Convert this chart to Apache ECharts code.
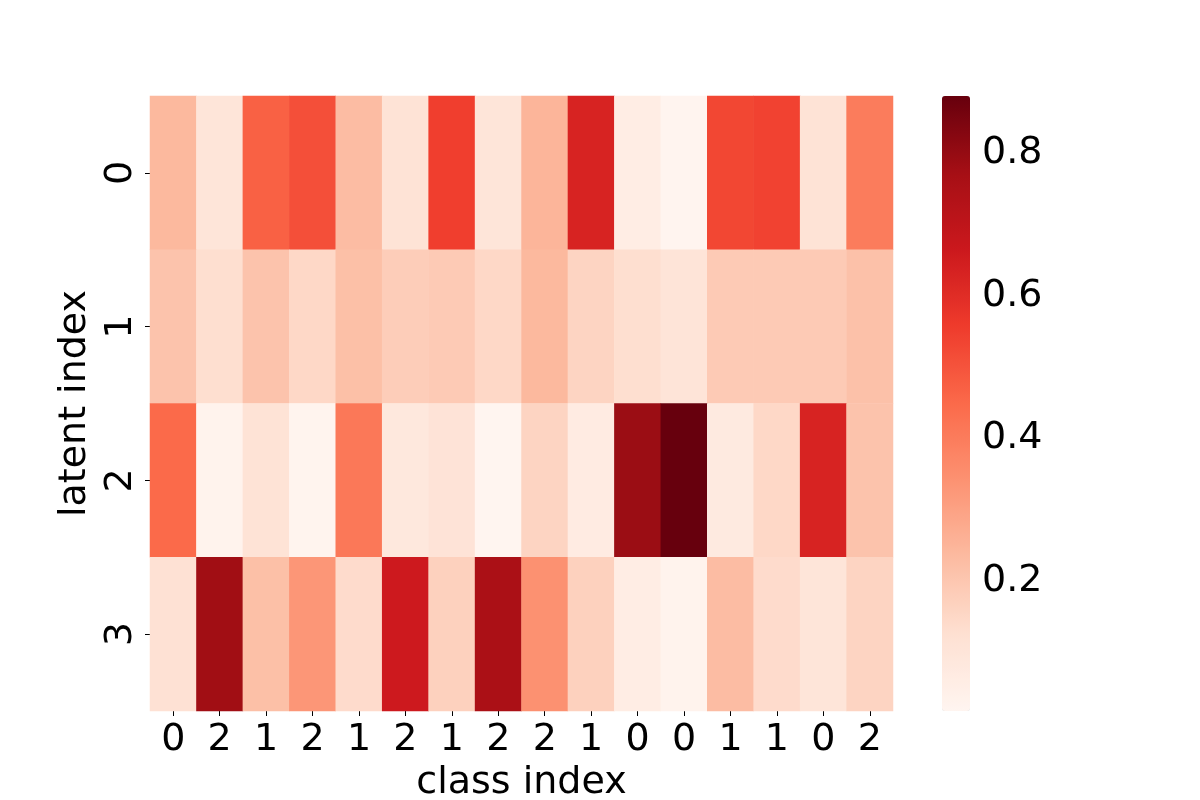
<!DOCTYPE html>
<html>
<head>
<meta charset="utf-8">
<title>latent / class heatmap</title>
<script src="https://cdn.jsdelivr.net/npm/echarts@6/dist/echarts.min.js"></script>
<style>
    html, body { margin: 0; padding: 0; background: #fff; }
    #heat { width: 1200px; height: 800px; }
</style>
</head>
<body>
<div id="heat"></div>
<script>
// 类别列 / 潜变量行
var classLabels = ['0', '2', '1', '2', '1', '2', '1', '2', '2', '1', '0', '0', '1', '1', '0', '2'];
var latentLabels = ['0', '1', '2', '3'];

// 每一行的数值
var latent0 = [0.24, 0.10, 0.47, 0.51, 0.23, 0.11, 0.55, 0.10, 0.25, 0.63, 0.06, 0.022, 0.53, 0.54, 0.11, 0.40];
var latent1 = [0.21, 0.13, 0.21, 0.15, 0.22, 0.18, 0.19, 0.15, 0.24, 0.16, 0.13, 0.105, 0.19, 0.19, 0.19, 0.215];
var latent2 = [0.45, 0.03, 0.11, 0.025, 0.41, 0.087, 0.108, 0.018, 0.16, 0.07, 0.79, 0.88, 0.075, 0.15, 0.63, 0.21];
var latent3 = [0.12, 0.78, 0.22, 0.33, 0.14, 0.66, 0.17, 0.755, 0.345, 0.17, 0.06, 0.03, 0.23, 0.14, 0.10, 0.16];

// 色条刻度
var cbarTicks = [0.2, 0.4, 0.6, 0.8];
var vMin = 0.018;
var vMax = 0.88;

// matplotlib Reds
var reds = ['#fff5f0', '#fee0d2', '#fcbba1', '#fc9272', '#fb6a4a', '#ef3b2c', '#cb181d', '#a50f15', '#67000d'];

var heat = echarts.init(document.getElementById('heat'));

var rows = [latent0, latent1, latent2, latent3];
var cells = [];
rows.forEach(function (row, y) {
    row.forEach(function (v, x) {
        cells.push([x, y, v]);
    });
});

var font = 'DejaVu Sans';
var tickStyle = { show: true, length: 5, lineStyle: { color: '#000', width: 1 } };

var option = {
    backgroundColor: '#fff',
    animation: false,
    textStyle: { fontFamily: font, color: '#000' },
    grid: [
        { left: 150, top: 96, width: 743, height: 615, outerBoundsMode: 'none' },
        // 色条的坐标轴
        { left: 942, top: 96, width: 28, height: 615, outerBoundsMode: 'none' }
    ],
    xAxis: [
        {
            type: 'category',
            data: classLabels,
            gridIndex: 0,
            axisLine: { show: false },
            axisTick: Object.assign({ alignWithLabel: true }, tickStyle),
            axisLabel: { fontSize: 38, color: '#000', margin: 10, interval: 0 },
            splitArea: { show: false },
            name: 'class index',
            nameLocation: 'middle',
            nameGap: 52,
            nameTextStyle: { fontSize: 38, color: '#000' }
        },
        {
            type: 'value',
            gridIndex: 1,
            show: false
        }
    ],
    yAxis: [
        {
            type: 'category',
            data: latentLabels,
            inverse: true,
            gridIndex: 0,
            axisLine: { show: false },
            axisTick: Object.assign({ alignWithLabel: true }, tickStyle),
            axisLabel: { fontSize: 38, color: '#000', rotate: 90, margin: 10 },
            splitArea: { show: false },
            name: 'latent index',
            nameLocation: 'middle',
            nameRotate: 90,
            nameGap: 55,
            nameTextStyle: { fontSize: 38, color: '#000' }
        },
        {
            type: 'value',
            gridIndex: 1,
            position: 'right',
            min: vMin,
            max: vMax,
            axisLine: { show: false },
            splitLine: { show: false },
            axisTick: Object.assign({ customValues: cbarTicks }, tickStyle),
            axisLabel: {
                fontSize: 38,
                color: '#000',
                margin: 12,
                customValues: cbarTicks,
                formatter: function (v) { return v.toFixed(1); }
            }
        }
    ],
    visualMap: {
        type: 'continuous',
        seriesIndex: 0,
        min: vMin,
        max: vMax,
        calculable: false,
        hoverLink: false,
        orient: 'vertical',
        left: 942,
        top: 96,
        padding: 0,
        itemWidth: 28,
        itemHeight: 615,
        inRange: { color: reds }
    },
    series: [
        {
            type: 'heatmap',
            xAxisIndex: 0,
            yAxisIndex: 0,
            data: cells,
            itemStyle: { borderWidth: 0 },
            emphasis: { disabled: true }
        }
    ]
};

heat.setOption(option);
window.addEventListener('resize', function () {
    heat.resize();
});
</script>
</body>
</html>
